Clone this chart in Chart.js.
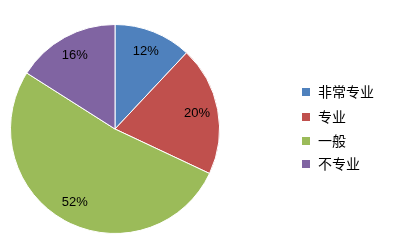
<!DOCTYPE html>
<html><head><meta charset="utf-8">
<script src="https://cdn.jsdelivr.net/npm/chart.js@4"></script>
<style>html,body{margin:0;padding:0;background:#fff}#w{width:400px;height:247px}</style>
</head><body><div id="w"><canvas id="c" width="400" height="247"></canvas></div>
<script>
const categories = ['非常专业', '专业', '一般', '不专业'];
const values = [12, 20, 52, 16];
const colors = ['#4F81BD', '#C0504D', '#9BBB59', '#8064A2'];

const labelPlugin = {
  id: 'labels',
  afterDatasetsDraw(chart) {
    const ctx = chart.ctx;
    const meta = chart.getDatasetMeta(0);
    const total = values.reduce((a, b) => a + b, 0);
    ctx.save();
    ctx.font = '13px "Liberation Sans", Arial, sans-serif';
    ctx.fillStyle = '#000';
    ctx.textAlign = 'center';
    ctx.textBaseline = 'middle';
    meta.data.forEach((arc, i) => {
      const mid = (arc.startAngle + arc.endAngle) / 2;
      const r = arc.outerRadius * 0.8;
      const x = arc.x + Math.cos(mid) * r;
      const y = arc.y + Math.sin(mid) * r;
      ctx.fillText(Math.round(values[i] / total * 100) + '%', x, y);
    });
    ctx.restore();
  }
};

const legendPlugin = {
  id: 'customLegend',
  afterDraw(chart) {
    const ctx = chart.ctx;
    ctx.save();
    ctx.font = '14px "Noto Sans CJK SC", sans-serif';
    ctx.textBaseline = 'middle';
    ctx.textAlign = 'left';
    const rows = [92, 117, 141, 164];
    chart.data.labels.forEach((lab, i) => {
      ctx.fillStyle = chart.data.datasets[0].backgroundColor[i];
      ctx.fillRect(302, rows[i] - 4, 8, 8);
      ctx.fillStyle = '#000';
      ctx.fillText(lab, 318, rows[i]);
    });
    ctx.restore();
  }
};

new Chart(document.getElementById('c'), {
  type: 'pie',
  data: {
    labels: categories,
    datasets: [{ data: values, backgroundColor: colors, borderColor: '#fff', borderWidth: 1 }]
  },
  options: {
    responsive: false,
    animation: false,
    layout: { padding: { left: 10, right: 180, top: 24, bottom: 13 } },
    plugins: { legend: { display: false }, tooltip: { enabled: false } }
  },
  plugins: [labelPlugin, legendPlugin]
});
</script></body></html>
